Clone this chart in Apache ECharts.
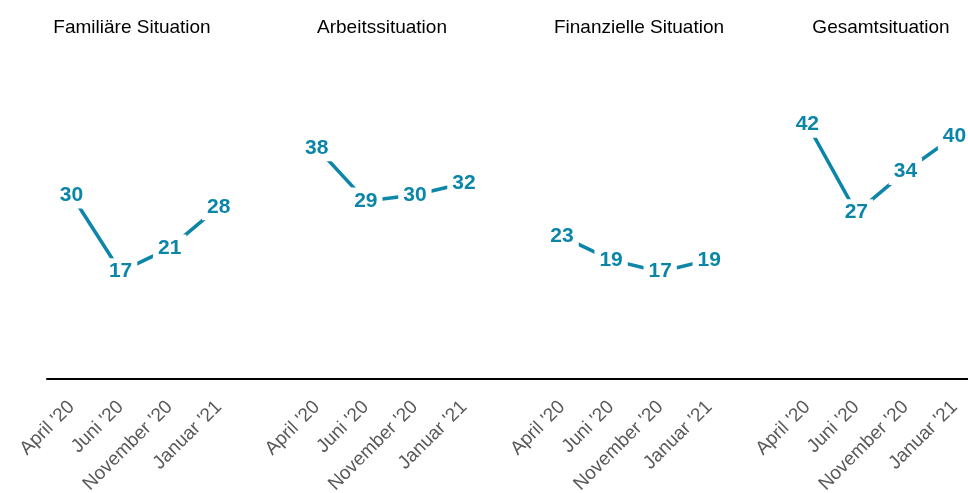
<!DOCTYPE html>
<html>
<head>
<meta charset="utf-8">
<script src="https://cdn.jsdelivr.net/npm/echarts@6/dist/echarts.min.js"></script>
<style>
  html, body { margin: 0; padding: 0; background: #fff; }
  #chart { width: 968px; height: 493px; }
</style>
</head>
<body>
<div id="chart"></div>
<script>
// data
var months = ["April '20", "Juni '20", "November '20", "Januar '21"]
var panels = ['Familiäre Situation', 'Arbeitssituation', 'Finanzielle Situation', 'Gesamtsituation']
var familiaer = [30, 17, 21, 28]
var arbeit = [38, 29, 30, 32]
var finanz = [23, 19, 17, 19]
var gesamt = [42, 27, 34, 40]
var values = [familiaer, arbeit, finanz, gesamt]

var blue = '#0b85a8'
var titleX = [132, 382, 639, 881]

// one axis, 4 months per panel with an empty slot between panels
var cats = []
panels.forEach(function (p, pi) {
    months.forEach(function (m) { cats.push(m) })
    if (pi < panels.length - 1) cats.push('')
})

var series = values.map(function (vals, pi) {
    var d = cats.map(function () { return null })
    vals.forEach(function (v, i) { d[pi * 5 + i] = v })
    return {
        type: 'line',
        data: d,
        symbol: 'circle',
        symbolSize: 1,
        connectNulls: false,
        lineStyle: { color: blue, width: 3.5 },
        itemStyle: { color: blue },
        label: {
            show: true,
            position: 'inside',
            color: blue,
            fontFamily: "'Liberation Sans Narrow', 'Arial Narrow', 'Liberation Sans', sans-serif",
            fontWeight: 'bold',
            fontSize: 21,
            backgroundColor: '#fff',
            padding: [3, 5]
        },
        emphasis: { disabled: true }
    }
})

var myChart = echarts.init(document.getElementById('chart'))
var option = {
    animation: false,
    grid: {
        left: 47,
        top: 77,
        width: 932,
        height: 295,
        outerBoundsMode: 'none'
    },
    xAxis: {
        type: 'category',
        data: cats,
        boundaryGap: true,
        offset: 7,
        axisLine: { onZero: false, lineStyle: { color: '#000', width: 2 } },
        axisTick: { show: false },
        axisLabel: {
            interval: 0,
            rotate: 45,
            margin: 25,
            color: '#595959',
            fontSize: 19,
            fontFamily: "'Liberation Sans', Arial, sans-serif"
        },
        splitLine: { show: false }
    },
    yAxis: {
        type: 'value',
        min: 0,
        max: 50,
        show: false
    },
    graphic: panels.map(function (p, i) {
        return {
            type: 'text',
            x: titleX[i],
            y: 28,
            style: {
                text: p,
                fill: '#000',
                fontSize: 19,
                fontFamily: "'Liberation Sans', Arial, sans-serif",
                textAlign: 'center',
                textVerticalAlign: 'middle'
            }
        }
    }),
    series: series
}
myChart.setOption(option)
</script>
</body>
</html>
